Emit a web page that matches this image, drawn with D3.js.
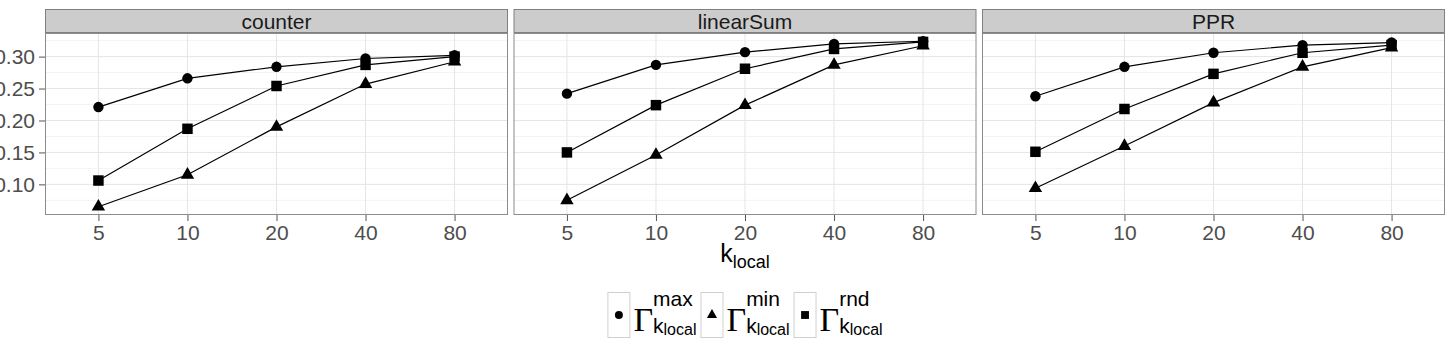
<!DOCTYPE html>
<meta charset="utf-8">
<script src="https://d3js.org/d3.v7.min.js"></script>
<style>
  body { margin: 0; background: #fff; }
  text { font-family: "Liberation Sans", Arial, sans-serif; }
</style>
<div id="chart"></div>
<script>
// categories on the x axis (k_local) and the three facets
var kLocal = ["5", "10", "20", "40", "80"];
var facets = ["counter", "linearSum", "PPR"];
var seriesNames = ["max", "min", "rnd"];
var yTicks = [0.10, 0.15, 0.20, 0.25, 0.30];

// values, one array per facet and series
var counterMax = [0.221, 0.266, 0.284, 0.297, 0.302];
var counterMin = [0.065, 0.115, 0.190, 0.257, 0.292];
var counterRnd = [0.106, 0.187, 0.254, 0.287, 0.300];

var linearSumMax = [0.242, 0.287, 0.307, 0.320, 0.324];
var linearSumMin = [0.075, 0.146, 0.224, 0.287, 0.317];
var linearSumRnd = [0.150, 0.224, 0.281, 0.312, 0.323];

var pprMax = [0.238, 0.284, 0.306, 0.318, 0.322];
var pprMin = [0.094, 0.160, 0.228, 0.284, 0.314];
var pprRnd = [0.151, 0.218, 0.273, 0.306, 0.318];

var table = [
  { facet: "counter",   series: "max", values: counterMax },
  { facet: "counter",   series: "min", values: counterMin },
  { facet: "counter",   series: "rnd", values: counterRnd },
  { facet: "linearSum", series: "max", values: linearSumMax },
  { facet: "linearSum", series: "min", values: linearSumMin },
  { facet: "linearSum", series: "rnd", values: linearSumRnd },
  { facet: "PPR",       series: "max", values: pprMax },
  { facet: "PPR",       series: "min", values: pprMin },
  { facet: "PPR",       series: "rnd", values: pprRnd }
];

// layout
var width = 1452, height = 348;
var plotLeft = 45, panelW = 463, panelGap = 5.5;
var stripTop = 9, stripH = 24, panelTop = 33, panelH = 182;
var fontSize = "21px";

var svg = d3.select("#chart").append("svg")
  .attr("width", width)
  .attr("height", height);

// y scale: data range with 5% expansion, like ggplot
var allValues = [].concat.apply([], table.map(function (d) { return d.values; }));
var ext = d3.extent(allValues);
var pad = (ext[1] - ext[0]) * 0.05;
var y = d3.scaleLinear()
  .domain([ext[0] - pad, ext[1] + pad])
  .range([panelTop + panelH, panelTop]);

var minorTicks = [];
for (var i = 0; i < yTicks.length; i++) {
  minorTicks.push(yTicks[i] - 0.025);
}
minorTicks.push(yTicks[yTicks.length - 1] + 0.025);
minorTicks = minorTicks.filter(function (v) { return v > y.domain()[0] && v < y.domain()[1]; });

var symbols = {
  max: d3.symbol().type(d3.symbolCircle).size(85),
  min: d3.symbol().type(d3.symbolTriangle).size(78),
  rnd: d3.symbol().type(d3.symbolSquare).size(110)
};

facets.forEach(function (facet, fi) {
  var x0 = plotLeft + fi * (panelW + panelGap);
  var x = d3.scalePoint()
    .domain(kLocal)
    .range([x0, x0 + panelW])
    .padding(0.6);

  var g = svg.append("g");

  // panel background
  g.append("rect")
    .attr("x", x0).attr("y", panelTop)
    .attr("width", panelW).attr("height", panelH)
    .attr("fill", "#fff");

  // minor grid
  g.selectAll(".minor").data(minorTicks).enter().append("line")
    .attr("x1", x0).attr("x2", x0 + panelW)
    .attr("y1", function (d) { return y(d); })
    .attr("y2", function (d) { return y(d); })
    .attr("stroke", "#f3f3f3").attr("stroke-width", 1);

  // major grid
  g.selectAll(".majorY").data(yTicks).enter().append("line")
    .attr("x1", x0).attr("x2", x0 + panelW)
    .attr("y1", function (d) { return y(d); })
    .attr("y2", function (d) { return y(d); })
    .attr("stroke", "#e5e5e5").attr("stroke-width", 1);
  g.selectAll(".majorX").data(kLocal).enter().append("line")
    .attr("x1", function (d) { return x(d); })
    .attr("x2", function (d) { return x(d); })
    .attr("y1", panelTop).attr("y2", panelTop + panelH)
    .attr("stroke", "#e5e5e5").attr("stroke-width", 1);

  // lines then points
  var rows = table.filter(function (d) { return d.facet === facet; });
  var line = d3.line()
    .x(function (d, i) { return x(kLocal[i]); })
    .y(function (d) { return y(d); });

  g.selectAll(".series").data(rows).enter().append("path")
    .attr("d", function (d) { return line(d.values); })
    .attr("fill", "none")
    .attr("stroke", "#000")
    .attr("stroke-width", 1.2);

  rows.forEach(function (r) {
    g.selectAll(".pt-" + r.series).data(r.values).enter().append("path")
      .attr("d", symbols[r.series])
      .attr("transform", function (d, i) {
        return "translate(" + x(kLocal[i]) + "," + y(d) + ")";
      })
      .attr("fill", "#000");
  });

  // panel border
  g.append("rect")
    .attr("x", x0 + 0.5).attr("y", panelTop + 0.5)
    .attr("width", panelW - 1).attr("height", panelH - 1)
    .attr("fill", "none")
    .attr("stroke", "#8c8c8c").attr("stroke-width", 1);

  // strip
  g.append("rect")
    .attr("x", x0 + 0.5).attr("y", stripTop + 0.5)
    .attr("width", panelW - 1).attr("height", stripH - 1)
    .attr("fill", "#cccccc")
    .attr("stroke", "#808080").attr("stroke-width", 1);
  g.append("text")
    .attr("x", x0 + panelW / 2).attr("y", stripTop + 19.5)
    .attr("text-anchor", "middle")
    .attr("font-size", fontSize)
    .attr("fill", "#1a1a1a")
    .text(facet);

  // x axis
  var xAxis = g.append("g")
    .attr("transform", "translate(0," + (panelTop + panelH) + ")")
    .call(d3.axisBottom(x).tickSize(6).tickPadding(4));
  xAxis.select(".domain").remove();
  xAxis.selectAll("line").attr("stroke", "#555");
  xAxis.selectAll("text")
    .attr("font-size", fontSize)
    .attr("fill", "#4d4d4d");

  // y axis on the first panel only
  if (fi === 0) {
    var yAxis = g.append("g")
      .attr("transform", "translate(" + x0 + ",0)")
      .call(d3.axisLeft(y).tickValues(yTicks).tickFormat(d3.format(".2f")).tickSize(6).tickPadding(4));
    yAxis.select(".domain").remove();
    yAxis.selectAll("line").attr("stroke", "#555");
    yAxis.selectAll("text")
      .attr("font-size", fontSize)
      .attr("fill", "#4d4d4d");
  }
});

// x axis title k_local
var title = svg.append("text")
  .attr("x", plotLeft + (3 * panelW + 2 * panelGap) / 2)
  .attr("y", 262)
  .attr("text-anchor", "middle")
  .attr("fill", "#000");
title.append("tspan").attr("font-size", "25px").text("k");
title.append("tspan").attr("font-size", "18px").attr("dy", 6).text("local");

// legend
var legendTop = 292, keyW = 23, keyH = 46;
var legendSymbols = {
  max: d3.symbol().type(d3.symbolCircle).size(50),
  min: d3.symbol().type(d3.symbolTriangle).size(45),
  rnd: d3.symbol().type(d3.symbolSquare).size(62)
};
var legend = svg.append("g");
var itemWidths = [];
var items = seriesNames.map(function (s) {
  var it = legend.append("g");
  it.append("rect")
    .attr("x", 0.5).attr("y", 0.5)
    .attr("width", keyW - 1).attr("height", keyH - 1)
    .attr("fill", "#fff")
    .attr("stroke", "#d0d0d0");
  it.append("path")
    .attr("d", legendSymbols[s])
    .attr("transform", "translate(" + (keyW / 2) + "," + (keyH / 2) + ")")
    .attr("fill", "#000");
  var gx = keyW + 3;
  var gam = it.append("text")
    .attr("x", gx).attr("y", 39)
    .style("font-family", "'Liberation Serif', 'Times New Roman', serif")
    .attr("font-size", "34px")
    .attr("fill", "#000")
    .text("\u0393");
  var gw = gam.node().getComputedTextLength();
  var sx = gx + gw;
  var sup = it.append("text")
    .attr("x", sx).attr("y", 14)
    .attr("font-size", "21px")
    .attr("fill", "#000")
    .text(s);
  var kx = it.append("text")
    .attr("x", sx).attr("y", 40.5)
    .attr("font-size", "21px")
    .attr("fill", "#000")
    .text("k");
  var kw = kx.node().getComputedTextLength();
  var loc = it.append("text")
    .attr("x", sx + kw).attr("y", 43)
    .attr("font-size", "16px")
    .attr("fill", "#000")
    .text("local");
  var lw = loc.node().getComputedTextLength();
  var w = gx + gw + Math.max(sup.node().getComputedTextLength(), kw + lw) + 4;
  itemWidths.push(w);
  return it;
});
var total = d3.sum(itemWidths);
var lx = plotLeft + (3 * panelW + 2 * panelGap) / 2 - total / 2 + 2;
items.forEach(function (it, i) {
  it.attr("transform", "translate(" + lx + "," + legendTop + ")");
  lx += itemWidths[i];
});
</script>
